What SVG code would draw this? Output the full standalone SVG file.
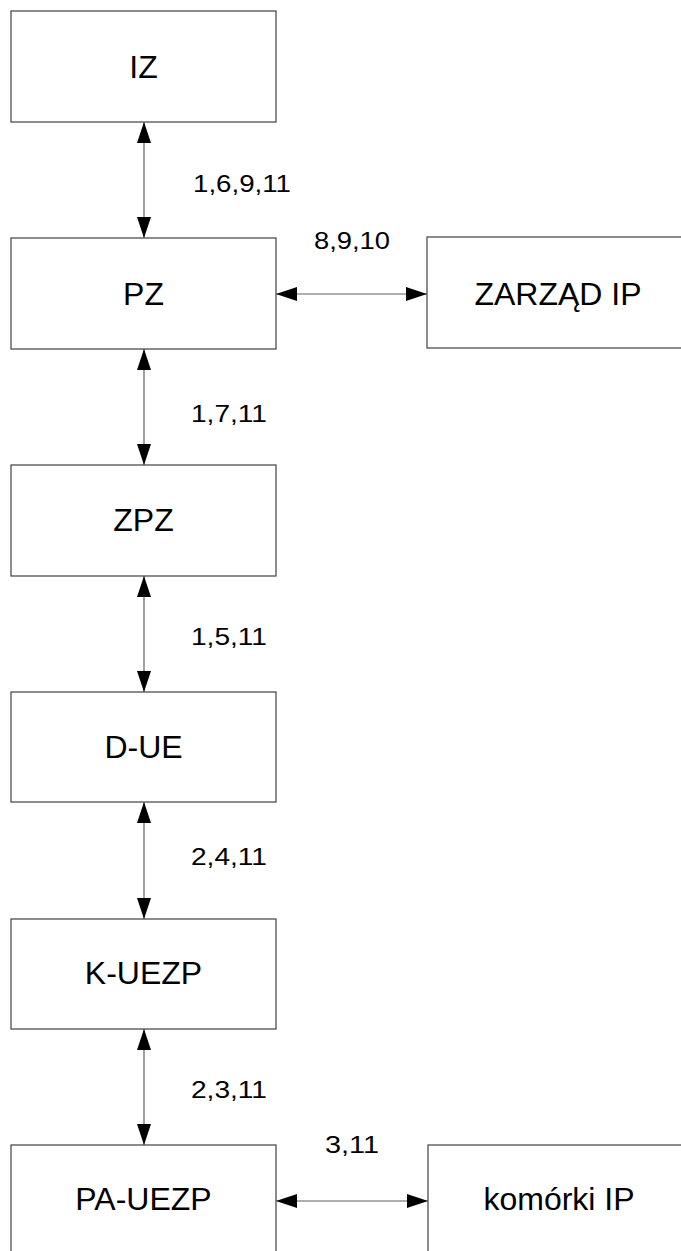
<svg xmlns="http://www.w3.org/2000/svg" width="681" height="1251" viewBox="0 0 681 1251">
<style>
.box{fill:#ffffff;stroke:#404040;stroke-width:1.2}
.t{font-family:"Liberation Sans",Arial,sans-serif;font-size:32px;fill:#000;text-anchor:middle}
.lb{font-family:"Liberation Sans",Arial,sans-serif;font-size:24px;fill:#000}
.c{stroke:#606060;stroke-width:1.2;fill:none;marker-start:url(#ah);marker-end:url(#ah)}
</style>
<defs>
<marker id="ah" viewBox="0 0 21 14" refX="21" refY="7" markerWidth="21" markerHeight="14" orient="auto-start-reverse" markerUnits="userSpaceOnUse">
<path d="M0,0 L21,7 L0,14 Z" fill="#000"/>
</marker>
</defs>
<rect width="681" height="1251" fill="#ffffff"/>
<g id="connectors">
<line class="c" x1="144" y1="122" x2="144" y2="238"/>
<line class="c" x1="144" y1="349" x2="144" y2="465"/>
<line class="c" x1="144" y1="576" x2="144" y2="692"/>
<line class="c" x1="144" y1="802" x2="144" y2="919"/>
<line class="c" x1="144" y1="1029" x2="144" y2="1145"/>
<line class="c" x1="276" y1="294" x2="427" y2="294"/>
<line class="c" x1="276" y1="1201" x2="428" y2="1201"/>
<text class="lb" x="193" y="191.5" textLength="98" lengthAdjust="spacingAndGlyphs">1,6,9,11</text>
<text class="lb" x="314" y="249" textLength="76" lengthAdjust="spacingAndGlyphs">8,9,10</text>
<text class="lb" x="191" y="421.5" textLength="76" lengthAdjust="spacingAndGlyphs">1,7,11</text>
<text class="lb" x="191" y="645" textLength="76" lengthAdjust="spacingAndGlyphs">1,5,11</text>
<text class="lb" x="191" y="865" textLength="76" lengthAdjust="spacingAndGlyphs">2,4,11</text>
<text class="lb" x="191" y="1098" textLength="76" lengthAdjust="spacingAndGlyphs">2,3,11</text>
<text class="lb" x="325" y="1152.5" textLength="54" lengthAdjust="spacingAndGlyphs">3,11</text>
</g>
<g id="IZ">
<rect class="box" x="11" y="11" width="265" height="111"/>
<text class="t" x="143.5" y="77.5">IZ</text>
</g>
<g id="PZ">
<rect class="box" x="11" y="238" width="265" height="111"/>
<text class="t" x="143.5" y="304.5">PZ</text>
</g>
<g id="ZARZAD_IP">
<rect class="box" x="427" y="237" width="265" height="111"/>
<text class="t" x="558" y="304.5">ZARZĄD IP</text>
</g>
<g id="ZPZ">
<rect class="box" x="11" y="465" width="265" height="111"/>
<text class="t" x="143.5" y="531">ZPZ</text>
</g>
<g id="D-UE">
<rect class="box" x="11" y="692" width="265" height="110"/>
<text class="t" x="143.5" y="757.5">D-UE</text>
</g>
<g id="K-UEZP">
<rect class="box" x="11" y="919" width="265" height="110"/>
<text class="t" x="143.5" y="984">K-UEZP</text>
</g>
<g id="PA-UEZP">
<rect class="box" x="11" y="1145" width="265" height="111"/>
<text class="t" x="143.5" y="1210">PA-UEZP</text>
</g>
<g id="komorki_IP">
<rect class="box" x="428" y="1145" width="265" height="111"/>
<text class="t" x="559" y="1210">komórki IP</text>
</g>
</svg>
